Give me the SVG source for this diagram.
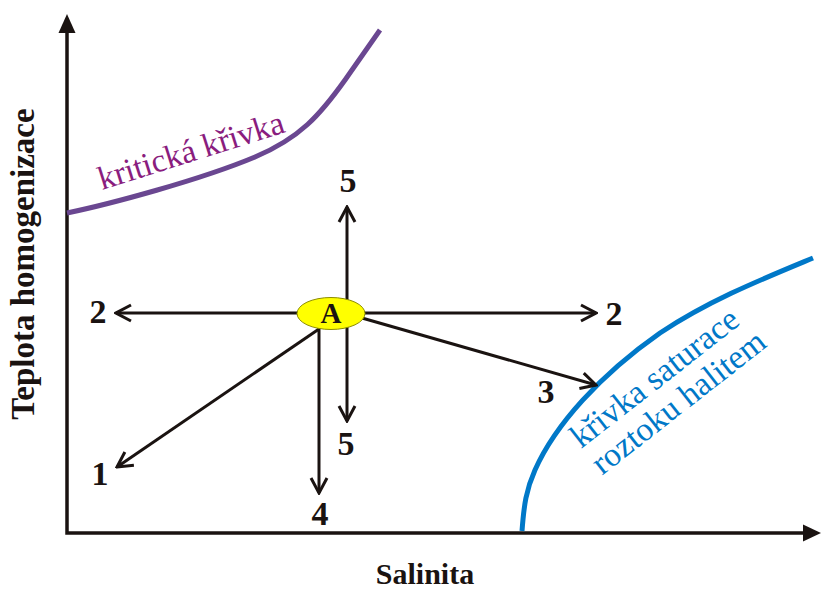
<svg xmlns="http://www.w3.org/2000/svg" width="821" height="591" viewBox="0 0 821 591">
<style>
.ax{stroke:#1a1311;stroke-width:3.5;fill:none}
.ln{stroke:#1a1311;stroke-width:3;fill:none;marker-end:url(#chev)}
.num{font-family:"Liberation Serif","Times New Roman",serif;font-weight:bold;font-size:34px;fill:#1a1311;text-anchor:middle}
.lbl{font-family:"Liberation Serif","Times New Roman",serif;font-weight:bold;font-size:30px;fill:#1a1311;text-anchor:middle}
.cur{font-family:"Liberation Serif","Times New Roman",serif;font-size:33.5px}
</style>
<defs>
<marker id="chev" markerUnits="userSpaceOnUse" viewBox="-17 -10 19 20" refX="0" refY="0" markerWidth="19" markerHeight="20" orient="auto">
<path d="M-15,-8 L0,0 L-15,8" fill="none" stroke="#1a1311" stroke-width="3"/>
</marker>
</defs>
<rect width="821" height="591" fill="#ffffff"/>
<g id="axes">
<path class="ax" d="M67,30 V533 H806"/>
<path d="M67,14 L75.5,33 L58.5,33 Z" fill="#1a1311"/>
<path d="M821,533 L803,524.5 L803,541.5 Z" fill="#1a1311"/>
<text class="lbl" transform="translate(34,264) rotate(-90)" style="font-size:33px">Teplota homogenizace</text>
<text class="lbl" x="425" y="584" style="font-size:30px">Salinita</text>
</g>
<g id="kriticka-krivka">
<path d="M67,213 C110,204 200,180 255,157 C300,138 320,115 345,80 L380,30" fill="none" stroke="#6a4791" stroke-width="5"/>
<text class="cur" fill="#8a1d7e" transform="translate(102,190) rotate(-17.5)" style="font-size:33px">kritická křivka</text>
</g>
<g id="krivka-saturace">
<path d="M522,531 C524,505 526,490 535,470 C555,425 600,375 660,333 C710,300 760,280 813,258" fill="none" stroke="#0078c8" stroke-width="5"/>
<text class="cur" fill="#0078c8" transform="translate(581,449) rotate(-38)"><tspan x="0" y="0">křivka saturace</tspan><tspan x="0" y="34">roztoku halitem</tspan></text>
</g>
<g id="connectors">
<line class="ln" x1="331" y1="313" x2="596" y2="313"/>
<line class="ln" x1="331" y1="313" x2="116" y2="313"/>
<line class="ln" x1="347" y1="313" x2="347" y2="207"/>
<line class="ln" x1="347" y1="313" x2="347" y2="421"/>
<line class="ln" x1="319" y1="325" x2="319" y2="493"/>
<line class="ln" x1="319" y1="329" x2="117" y2="467"/>
<line class="ln" x1="355" y1="316" x2="596" y2="385"/>
</g>
<g id="node-A">
<ellipse cx="331" cy="313.5" rx="34" ry="16" fill="#ffff00" stroke="#8c8c00" stroke-width="1"/>
<text class="lbl" x="331" y="323" style="font-size:29px">A</text>
</g>
<g id="labels">
<text class="num" x="614" y="325">2</text>
<text class="num" x="98" y="323">2</text>
<text class="num" x="348" y="192">5</text>
<text class="num" x="346" y="455">5</text>
<text class="num" x="320" y="525">4</text>
<text class="num" x="100" y="485">1</text>
<text class="num" x="546" y="403">3</text>
</g>
</svg>
